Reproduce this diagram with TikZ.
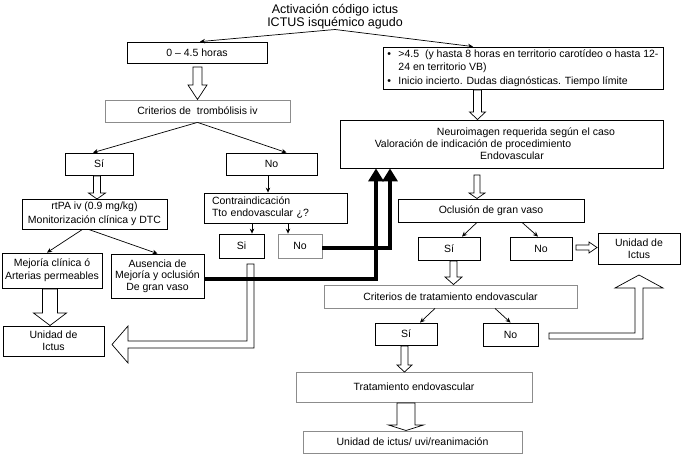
\documentclass[tikz,border=0pt]{standalone}
\usepackage{fontspec}
\setmainfont{Liberation Sans}
\usetikzlibrary{arrows.meta}
\newcommand\hdown[6]{% x, top, base, tip, shaft half width, head half width
  \draw[harrow] ({#1-#5},#2) -- ({#1-#5},#3) -- ({#1-#6},#3) -- (#1,#4) -- ({#1+#6},#3) -- ({#1+#5},#3) -- ({#1+#5},#2) -- cycle;}
\begin{document}
\begin{tikzpicture}[x=1pt,y=-1pt,
  box/.style={draw=black, line width=0.8pt, inner sep=0pt, align=center,
    font=\fontsize{10.5}{12.5}\selectfont},
  gbox/.style={box, draw=black!45},
  arr/.style={line width=0.7pt, -{Stealth[length=5pt,width=4.5pt]}},
  tarr/.style={line width=3.5pt, -{Triangle[length=13pt,width=15pt]}},
  harrow/.style={draw=black, line width=0.7pt, fill=white, line join=miter}]
\useasboundingbox (0,0) rectangle (700,454);

% title
\node[inner sep=0pt, align=center, font=\fontsize{12.5}{11.5}\selectfont] (title) at (335,17)
  {Activación código ictus\\ICTUS isquémico agudo};

% boxes
\node[box, minimum width=140, minimum height=21] (A) at (197,52.5) {0 – 4.5 horas};
\node[box, minimum width=280, minimum height=42, font=\fontsize{10.5}{13.5}\selectfont] (B) at (523,68)
  {\begin{tabular}{@{}p{11pt}@{}l@{}}
   \textbullet & >4.5\ \ (y hasta 8 horas en territorio carotídeo o hasta 12-\\
               & 24 en territorio VB)\\
   \textbullet & Inicio incierto. Dudas diagnósticas. Tiempo límite
   \end{tabular}};
\node[gbox, minimum width=185, minimum height=22] (C) at (197.5,111) {Criterios de\ \ trombólisis iv};
\node[box, minimum width=68, minimum height=22] (D) at (99,164) {Sí};
\node[box, minimum width=91, minimum height=22] (E) at (271.5,164) {No};
\node[box, minimum width=323, minimum height=48, font=\fontsize{10.5}{12}\selectfont] (F) at (501.5,144)
  {\rule{49pt}{0pt}Neuroimagen requerida según el caso\\
   Valoración de indicación de procedimiento\rule{57pt}{0pt}\\
   \rule{21pt}{0pt}Endovascular};
\node[box, minimum width=145, minimum height=30, font=\fontsize{10.5}{13.5}\selectfont] (G) at (94.5,214)
  {rtPA iv (0.9 mg/kg)\\Monitorización clínica y DTC};
\node[box, minimum width=143, minimum height=30, text width=127, align=left,
  font=\fontsize{10.5}{12}\selectfont] (H) at (275.5,208)
  {Contraindicación\\Tto endovascular ¿?};
\node[box, minimum width=45, minimum height=24] (I) at (241.5,246) {Si};
\node[gbox, minimum width=44, minimum height=24] (J) at (300,246) {No};
\node[box, minimum width=100, minimum height=35, font=\fontsize{10.5}{13}\selectfont] (K) at (52,270.5)
  {Mejoría clínica ó\\Arterias permeables};
\node[box, minimum width=93, minimum height=44, font=\fontsize{10.5}{11.5}\selectfont] (L) at (157.5,276)
  {Ausencia de\\Mejoría y oclusión\\De gran vaso};
\node[box, minimum width=101, minimum height=30, font=\fontsize{10.5}{12}\selectfont] (M) at (53.5,341)
  {Unidad de\\Ictus};
\node[box, minimum width=186, minimum height=23] (N) at (491,210.5) {Oclusión de gran vaso};
\node[box, minimum width=62, minimum height=23] (O) at (449,248.5) {Sí};
\node[box, minimum width=62, minimum height=23] (P) at (541,248.5) {No};
\node[box, minimum width=82, minimum height=31, font=\fontsize{10.5}{12}\selectfont] (Q) at (639,248.5)
  {Unidad de\\Ictus};
\node[gbox, minimum width=253, minimum height=23] (R) at (450.5,296.5) {Criterios de tratamiento endovascular};
\node[box, minimum width=62, minimum height=22] (S) at (406,334) {Sí};
\node[box, minimum width=55, minimum height=23] (T) at (510.5,334.5) {No};
\node[gbox, minimum width=236, minimum height=30] (U) at (414,387) {Tratamiento endovascular};
\node[gbox, minimum width=219, minimum height=22] (V) at (412.5,442) {Unidad de ictus/ uvi/reanimación};

% thin arrows
\draw[arr] (title.south) -- ([xshift=3pt]A.north);
\draw[arr] (title.south) -- ([xshift=-50pt]B.north);
\draw[arr] (C.south) -- ([xshift=-6pt]D.north);
\draw[arr] (C.south) -- ([xshift=15pt]E.north);
\draw[arr] ([xshift=-3.5pt]E.south) -- ([xshift=-3.5pt]E.south |- H.north);
\draw[arr] ([xshift=10.5pt]I.north |- H.south) -- ([xshift=10.5pt]I.north);
\draw[arr] ([xshift=-12pt]J.north |- H.south) -- ([xshift=-12pt]J.north);
\draw[arr] ([xshift=-12pt]G.south) -- ([xshift=-5pt]K.north);
\draw[arr] ([xshift=-6pt]G.south) -- (L.north);
\draw[arr] ([xshift=-14pt]N.south) -- ([xshift=13pt]O.north);
\draw[arr] ([xshift=31pt]N.south) -- ([xshift=-3pt]P.north);
\draw[arr] ([xshift=-15.5pt]R.south) -- ([xshift=14pt]S.north);
\draw[arr] ([xshift=44.5pt]R.south) -- (T.north);

% hollow block arrows
\hdown{197.5}{67}{85}{99.5}{4.5}{9.5}
\hdown{97}{176}{193}{199}{3.5}{8.5}
\hdown{50}{289}{313}{325.5}{7.5}{16.5}
\hdown{477.5}{90}{112}{119.5}{4}{8}
\hdown{477}{175}{193}{198.5}{3}{8}
\hdown{453.5}{261}{277}{284.5}{3.5}{8.5}
\hdown{404.5}{346}{365}{372}{3.5}{7.5}
\hdown{406}{403}{425}{430.5}{9}{17.5}
% Si -> Unidad de Ictus (left)
\draw[harrow] (247,264) -- (254,264) -- (254,348) -- (128,348) -- (128,363) -- (112,344.5)
  -- (128,326) -- (128,341) -- (247,341) -- cycle;
% No -> Unidad de Ictus (right, small)
\draw[harrow] (576,245) -- (589,245) -- (589,242) -- (597,247.5) -- (589,253) -- (589,250) -- (576,250) -- cycle;
% No -> Unidad de Ictus (right, L-shaped)
\draw[harrow] (549,333) -- (635,333) -- (635,288) -- (615,288) -- (639,275) -- (663,288)
  -- (643,288) -- (643,339) -- (549,339) -- cycle;

% thick arrows
\draw[tarr] ([yshift=-3pt]L.east) -| ([xshift=-125.5pt]F.south);
\draw[tarr] ([yshift=-2pt]J.east) -| ([xshift=-111.5pt]F.south);
\end{tikzpicture}
\end{document}
